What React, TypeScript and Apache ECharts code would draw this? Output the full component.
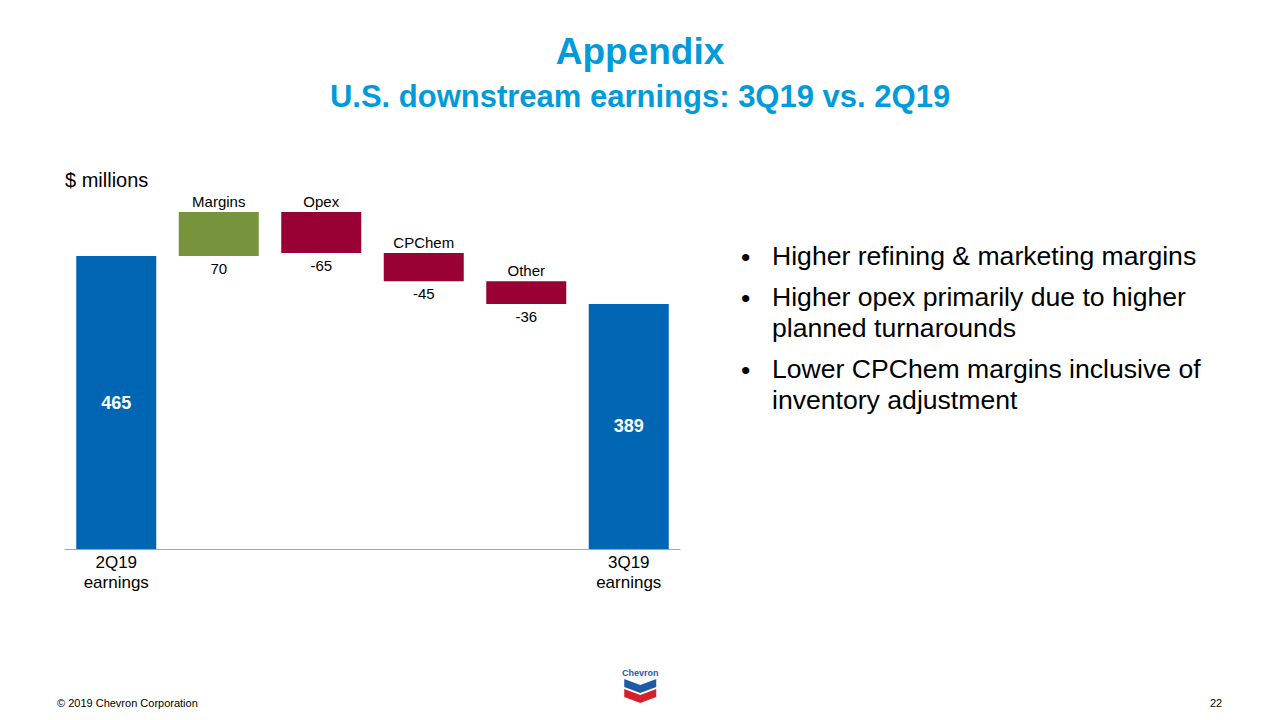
import React, { useEffect, useRef } from "react";
import * as echarts from "echarts";

const categories = ["2Q19\nearnings", "Margins", "Opex", "CPChem", "Other", "3Q19\nearnings"];
const values = [465, 70, -65, -45, -36, 389];
const kinds = ["total", "delta", "delta", "delta", "delta", "total"];
const bullets = [
  ["Higher refining & marketing margins"],
  ["Higher opex primarily due to higher", "planned turnarounds"],
  ["Lower CPChem margins inclusive of", "inventory adjustment"],
];
const titleText = "Appendix";
const subtitleText = "U.S. downstream earnings: 3Q19 vs. 2Q19";
const unitText = "$ millions";
const footerText = "© 2019 Chevron Corporation";
const pageNumber = "22";

const FONT = "'Liberation Sans', Arial, Helvetica, sans-serif";
const BLUE = "#0066B3";
const GREEN = "#77933C";
const RED = "#990033";
const TITLE = "#009BDB";

function buildWaterfall() {
  let running = 0;
  const base: any[] = [];
  const vis: any[] = [];
  values.forEach((v, i) => {
    if (kinds[i] === "total") {
      running = v;
      base.push({ value: 0, label: { show: false } });
      vis.push({
        value: v,
        itemStyle: { color: BLUE },
        label: {
          show: true,
          position: "inside",
          formatter: String(v),
          color: "#fff",
          fontWeight: "bold",
          fontSize: 18,
          fontFamily: FONT,
        },
      });
    } else {
      const start = running;
      const end = running + v;
      running = end;
      base.push({
        value: Math.min(start, end),
        label: {
          show: true,
          position: "insideTop",
          distance: 5,
          formatter: String(v),
          color: "#000",
          fontSize: 15,
          fontFamily: FONT,
        },
      });
      vis.push({
        value: Math.abs(v),
        itemStyle: { color: v >= 0 ? GREEN : RED },
        label: {
          show: true,
          position: "top",
          distance: 3,
          formatter: categories[i],
          color: "#000",
          fontSize: 15,
          fontFamily: FONT,
        },
      });
    }
  });
  return { base, vis };
}

export default function App() {
  const ref = useRef<HTMLDivElement>(null);
  useEffect(() => {
    if (!ref.current) return;
    const chart = echarts.init(ref.current, undefined, { renderer: "svg" });
    const { base, vis } = buildWaterfall();

    const bulletGraphics: any[] = [];
    let y = 257.5;
    bullets.forEach((lines) => {
      bulletGraphics.push({
        type: "text",
        left: 741,
        top: y - 14,
        style: { text: "•", font: `26.6px ${FONT}`, fill: "#000" },
      });
      lines.forEach((ln, j) => {
        bulletGraphics.push({
          type: "text",
          left: 772,
          top: y - 15,
          style: { text: ln, font: `26.6px ${FONT}`, fill: "#000" },
        });
        y += j < lines.length - 1 ? 31.5 : 0;
      });
      y += 40.5;
    });

    chart.setOption({
      animation: false,
      backgroundColor: "#ffffff",
      grid: { left: 65, right: 600, top: 171, bottom: 171, containLabel: false },
      xAxis: {
        type: "category",
        data: categories,
        axisLine: { lineStyle: { color: "#A6A6A6", width: 1 } },
        axisTick: { show: false },
        axisLabel: {
          interval: 0,
          margin: 3,
          color: "#000",
          fontSize: 17,
          lineHeight: 20,
          fontFamily: FONT,
          formatter: (val: string, idx: number) => (kinds[idx] === "total" ? val : ""),
        },
      },
      yAxis: {
        type: "value",
        min: 0,
        max: 600,
        show: false,
        splitLine: { show: false },
      },
      series: [
        {
          type: "bar",
          stack: "w",
          barWidth: 80,
          itemStyle: { color: "transparent" },
          emphasis: { disabled: true },
          data: base,
        },
        {
          type: "bar",
          stack: "w",
          barWidth: 80,
          emphasis: { disabled: true },
          data: vis,
        },
      ],
      graphic: [
        {
          type: "text",
          left: "center",
          top: 33,
          style: { text: titleText, font: `bold 37px ${FONT}`, fill: TITLE },
        },
        {
          type: "text",
          left: "center",
          top: 81,
          style: { text: subtitleText, font: `bold 31px ${FONT}`, fill: TITLE },
        },
        {
          type: "text",
          left: 65,
          top: 170,
          style: { text: unitText, font: `20px ${FONT}`, fill: "#000" },
        },
        ...bulletGraphics,
        {
          type: "text",
          left: 57,
          top: 697,
          style: { text: footerText, font: `11px ${FONT}`, fill: "#000" },
        },
        {
          type: "text",
          left: 1210,
          top: 697,
          style: { text: pageNumber, font: `11px ${FONT}`, fill: "#000" },
        },
        {
          type: "group",
          left: 622,
          top: 668,
          children: [
            {
              type: "text",
              x: 18,
              y: 1,
              style: {
                text: "Chevron",
                font: `bold 9px ${FONT}`,
                fill: "#1F5AA6",
                align: "center",
              },
            },
            {
              type: "polygon",
              shape: {
                points: [
                  [2, 12],
                  [18, 18],
                  [34, 12],
                  [34, 20],
                  [18, 26],
                  [2, 20],
                ],
              },
              style: { fill: "#1F5AA6" },
            },
            {
              type: "polygon",
              shape: {
                points: [
                  [2, 22],
                  [18, 28],
                  [34, 22],
                  [34, 30],
                  [18, 36],
                  [2, 30],
                ],
              },
              style: { fill: "#D6202B" },
            },
          ],
        },
      ],
    });
    return () => chart.dispose();
  }, []);
  return (
    <div
      ref={ref}
      style={{ position: "fixed", left: 0, top: 0, width: 1280, height: 720, background: "#fff" }}
    />
  );
}
